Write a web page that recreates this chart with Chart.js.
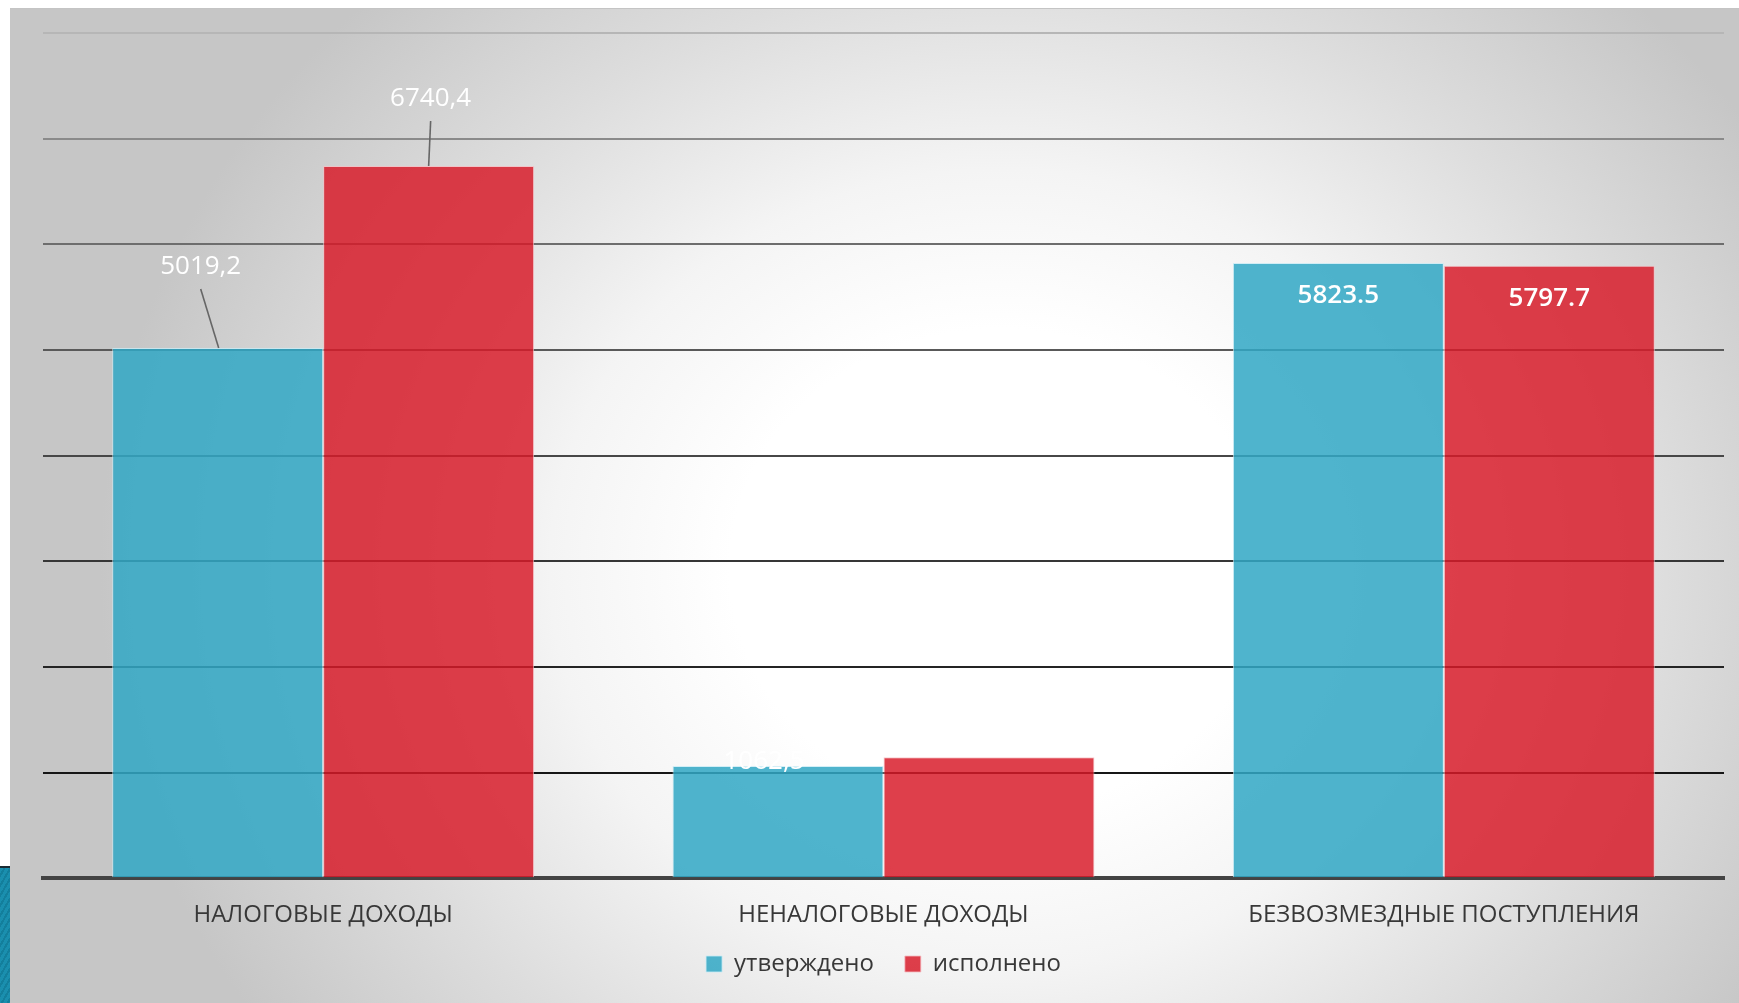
<!DOCTYPE html>
<html>
<head>
<meta charset="utf-8">
<script src="https://cdn.jsdelivr.net/npm/chart.js@4/dist/chart.umd.min.js"></script>
<style>
    html, body { margin: 0; padding: 0; background: #ffffff; overflow: hidden; }
    #panel {
        position: absolute; left: 10px; top: 8px; width: 1729px; height: 995px;
        border-top: 1px solid #c4c4c4;
        background: radial-gradient(ellipse 900px 800px at 990px 560px,
                    #ffffff 0%, #ffffff 30%, #f4f4f4 50%, #dddddd 74%, #c6c6c6 100%);
    }
    #corner {
        position: absolute; left: 0; top: 866px; width: 10px; height: 137px;
        background: repeating-linear-gradient(120deg, #1a8fae 0px, #1a8fae 3px, #137f9c 3px, #137f9c 5px);
        border-top: 2px solid #1b2b33;
    }
    #chart { position: absolute; left: 0; top: 0; }
</style>
</head>
<body>
<div id="panel"></div>
<div id="corner"></div>
<canvas id="chart" width="1739" height="1003"></canvas>
<script>
// Categories and series.
const categories   = ["НАЛОГОВЫЕ ДОХОДЫ", "НЕНАЛОГОВЫЕ ДОХОДЫ", "БЕЗВОЗМЕЗДНЫЕ ПОСТУПЛЕНИЯ"];
const seriesNames  = ["утверждено", "исполнено"];
const planned      = [5019.2, 1062.5, 5823.5];
const executed     = [6740.4, 1145, 5797.7];

// Value labels exactly as printed (mixed decimal separators in the source).
const plannedText  = ["5019,2", "1062,5", "5823.5"];
const executedText = ["6740,4", null, "5797.7"];

// y axis range (ticks are hidden, only grid lines shown)
const yMax  = 8000;
const yStep = 1000;

// Grid line colour per tick index, darker toward the bottom.
const gridColors = ["rgba(0,0,0,0)", "#161616", "#242424", "#363636", "#474747",
                    "#595959", "#6d6d6d", "#8a8a8a", "#b6b6b6"];

// Where each value label goes: above with a leader line, at the edge, or inside the bar.
const labelPlacement = [
    [ {mode: "leader", dx: -17, dy: -81, lx: 1},
      {mode: "edge",   dx: -14, dy: -4},
      {mode: "inside", dx: 0,   dy: 33} ],
    [ {mode: "leader", dx: 2,   dy: -67, lx: 0},
      null,
      {mode: "inside", dx: 0,   dy: 33} ]
];

const valueLabels = {
    id: "valueLabels",
    afterDatasetsDraw (chart) {
        const ctx = chart.ctx;
        const texts = [plannedText, executedText];
        ctx.save();
        chart.data.datasets.forEach((ds, di) => {
            const meta = chart.getDatasetMeta(di);
            meta.data.forEach((bar, i) => {
                const txt = texts[di][i];
                const p = labelPlacement[di][i];
                if (!txt || !p) return;
                const tx = bar.x + p.dx;
                const ty = bar.y + p.dy;
                if (p.mode === "leader") {
                    // Leader line from under the text down to the bar top.
                    ctx.strokeStyle = "#666666";
                    ctx.lineWidth = 1.6;
                    ctx.beginPath();
                    ctx.moveTo(tx, ty + 22);
                    ctx.lineTo(bar.x + p.lx, bar.y);
                    ctx.stroke();
                }
                ctx.font = (p.mode === "inside" ? "600 " : "") + "26px 'Open Sans'";
                ctx.fillStyle = "#ffffff";
                ctx.textAlign = "center";
                ctx.textBaseline = "middle";
                ctx.fillText(txt, tx, ty);
            });
        });
        ctx.restore();
    }
};

const CHART = new Chart(document.getElementById("chart"), {
    type: "bar",
    data: {
        labels: categories,
        datasets: [
            {
                label: seriesNames[0],
                data: planned,
                backgroundColor: "rgba(50,168,197,0.86)",
                borderColor: "rgba(200,235,245,0.8)",
                borderWidth: 1
            },
            {
                label: seriesNames[1],
                data: executed,
                backgroundColor: "rgba(216,26,40,0.84)",
                borderColor: "rgba(245,190,195,0.8)",
                borderWidth: 1
            }
        ]
    },
    options: {
        responsive: false,
        animation: false,
        devicePixelRatio: 1,
        categoryPercentage: 0.753,
        barPercentage: 1.0,
        layout: {
            padding: { left: 43, right: 15, top: 33, bottom: 17 }
        },
        scales: {
            x: {
                grid: { display: false },
                border: { display: true, color: "#434343", width: 4 },
                ticks: {
                    color: "#383838",
                    padding: 15,
                    font: { family: "'Open Sans'", size: 24 }
                }
            },
            y: {
                min: 0,
                max: yMax,
                ticks: { display: false, stepSize: yStep },
                border: { display: false },
                grid: {
                    drawTicks: false,
                    lineWidth: 2,
                    color: (c) => gridColors[c.index] || "#999999"
                },
                afterFit: (axis) => { axis.width = 0; }
            }
        },
        plugins: {
            legend: {
                position: "bottom",
                labels: {
                    color: "#383838",
                    boxWidth: 16,
                    boxHeight: 16,
                    padding: 7,
                    font: { family: "'Open Sans'", size: 24 },
                    // small padding keeps the legend close to the axis; widen the gap between items with spaces
                    generateLabels: (chart) => {
                        const items = Chart.defaults.plugins.legend.labels.generateLabels(chart);
                        items[0].text += "\u2002\u2002";
                        return items;
                    }
                }
            },
            tooltip: { enabled: false }
        }
    },
    plugins: [valueLabels]
});
</script>
</body>
</html>
